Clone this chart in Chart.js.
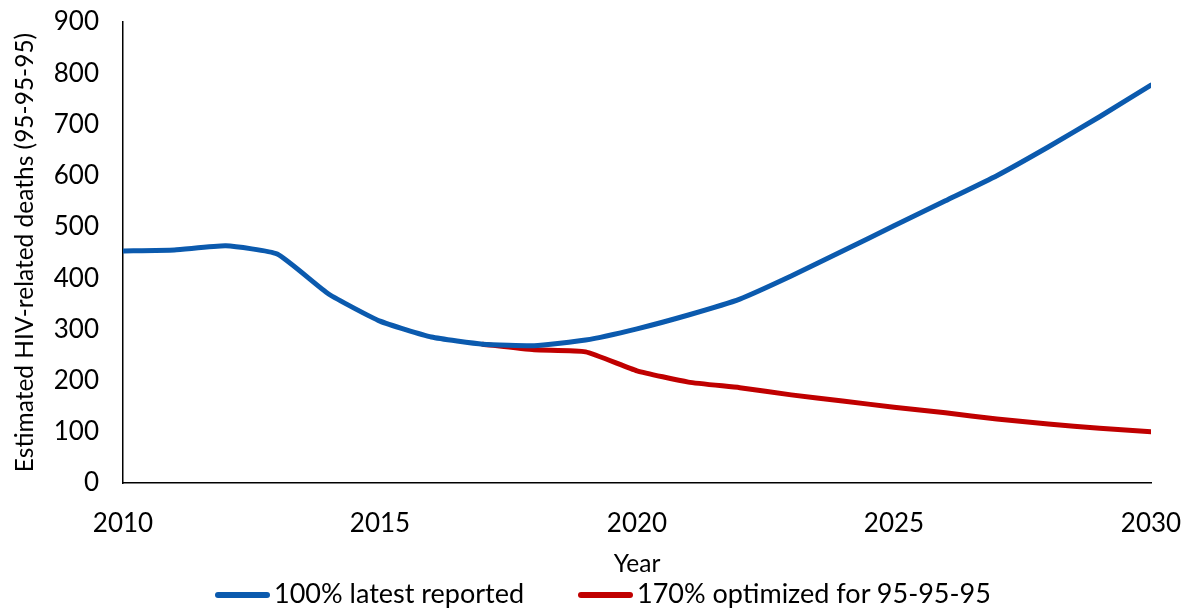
<!DOCTYPE html>
<html>
<head>
<meta charset="utf-8">
<script src="https://cdn.jsdelivr.net/npm/chart.js@4"></script>
<style>
html,body{margin:0;padding:0;background:#fff;}
#wrap{position:relative;width:1192px;height:609px;}
#legend{position:absolute;left:0;top:577px;width:1192px;height:32px;font-family:Lato,'Open Sans',sans-serif;font-size:27px;color:#000;}
.item{position:absolute;top:0;height:32px;line-height:32px;white-space:nowrap;}
.swatch{display:inline-block;width:55px;height:6px;border-radius:3px;vertical-align:middle;margin-right:4px;position:relative;top:-1px;}
</style>
</head>
<body>
<div id="wrap"><canvas id="c" width="1192" height="609"></canvas><div id="legend"></div></div>
<script>
const years = [2010,2011,2012,2013,2014,2015,2016,2017,2018,2019,2020,2021,2022,2023,2024,2025,2026,2027,2028,2029,2030];
const latestReported = [453,455,463,447,369,316,285,271,268,279,301,328,359,404,453,502,551,600,656,715,777];
const optimizedYears = [2017,2018,2019,2020,2021,2022,2023,2024,2025,2026,2027,2028,2029,2030];
const optimized = [271,260,256,219,197,186,172,160,148,137,125,115,107,100];
const seriesNames = ["100% latest reported","170% optimized for 95-95-95"];
const seriesColors = ['#0B5AAE','#C00000'];
const xTitle = "Year";
const yTitle = "Estimated HIV-related deaths (95-95-95)";

const FONT = "Lato, 'Open Sans', sans-serif";
Chart.defaults.font.family = FONT;
Chart.defaults.color = "#000";

const chart = new Chart(document.getElementById('c'), {
  type: 'line',
  data: {
    datasets: [
      {label: seriesNames[0], data: years.map((y,i)=>({x:y,y:latestReported[i]})), borderColor:seriesColors[0], backgroundColor:seriesColors[0], borderWidth:5, pointRadius:0, tension:0.15, borderCapStyle:'round', borderJoinStyle:'round'},
      {label: seriesNames[1], data: optimizedYears.map((y,i)=>({x:y,y:optimized[i]})), borderColor:seriesColors[1], backgroundColor:seriesColors[1], borderWidth:5, pointRadius:0, tension:0.15, borderCapStyle:'round', borderJoinStyle:'round'}
    ]
  },
  options: {
    responsive:false, animation:false,
    layout:{padding:{top:22,right:41,left:0,bottom:30}},
    plugins:{ tooltip:{enabled:false}, legend:{display:false} },
    scales:{
      x:{type:'linear', min:2010, max:2030,
        grid:{display:false, drawTicks:false},
        border:{color:'#000', width:1.5},
        ticks:{stepSize:5, padding:25, font:{size:26}, color:'#000', callback:v=>String(v)},
        title:{display:true, text:xTitle, font:{size:24.5}, color:'#000', padding:{top:0,bottom:0}},
        afterFit(s){ s.height = 96; s.paddingLeft = 0; s.paddingRight = 0; }
      },
      y:{min:0, max:900,
        grid:{display:false, drawTicks:false},
        border:{color:'#000', width:1.5},
        ticks:{stepSize:100, padding:24, font:{size:26}, color:'#000'},
        title:{display:true, text:yTitle, font:{size:24.5}, color:'#000', padding:{top:10,bottom:0}},
        afterFit(s){ s.width = 123; s.paddingTop = 0; s.paddingBottom = 0; }
      }
    }
  }
});

// legend (HTML, real text)
const legendPos = [215, 578];
const lg = document.getElementById('legend');
seriesNames.forEach((n,i)=>{
  const d = document.createElement('div');
  d.className = 'item';
  d.style.left = legendPos[i] + 'px';
  const sw = document.createElement('span');
  sw.className = 'swatch';
  sw.style.background = seriesColors[i];
  d.appendChild(sw);
  d.appendChild(document.createTextNode(n));
  lg.appendChild(d);
});
</script>
</body>
</html>
